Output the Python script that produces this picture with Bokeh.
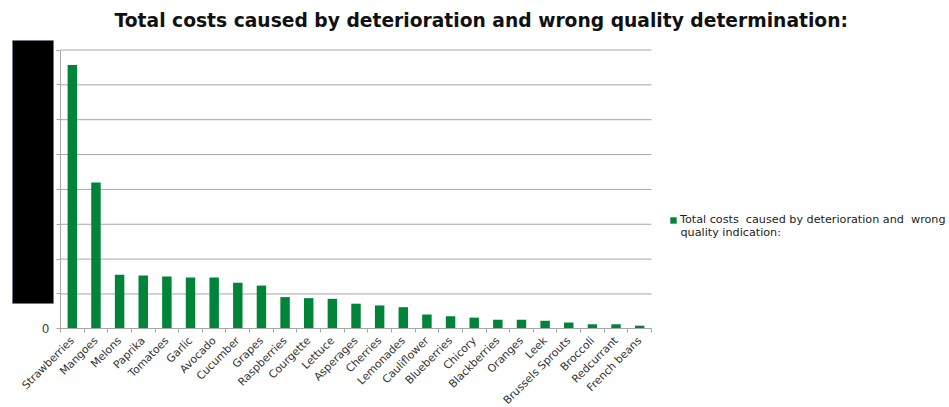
import math
from bokeh.plotting import figure
from bokeh.models import (Range1d, FixedTicker, BoxAnnotation, Legend, LegendItem,
                          ColumnDataSource, Label)
from bokeh.embed import file_html
from bokeh.resources import INLINE

categories = ["Strawberries", "Mangoes", "Melons", "Paprika", "Tomatoes", "Garlic",
              "Avocado", "Cucumber", "Grapes", "Raspberries", "Courgette", "Lettuce",
              "Asperages", "Cherries", "Lemonades", "Cauliflower", "Blueberries",
              "Chicory", "Blackberries", "Oranges", "Leek", "Brussels Sprouts",
              "Broccoli", "Redcurrant", "French beans"]
costs = [7.57, 4.20, 1.55, 1.53, 1.50, 1.47, 1.47, 1.32, 1.24, 0.91, 0.88, 0.86,
         0.72, 0.67, 0.62, 0.41, 0.36, 0.32, 0.26, 0.26, 0.23, 0.18, 0.13, 0.13, 0.09]
y_ticks = [0, 1, 2, 3, 4, 5, 6, 7, 8]
y_tick_labels = {0: "0"}

title_text = "Total costs  caused by deterioration and wrong quality determination:"
legend_line1 = "Total costs  caused by deterioration and  wrong"
legend_line2 = "quality indication:"

FONT = "DejaVu Sans"
GREEN = "#00843a"
GRID = "#a6a6a6"

W, H = 949, 407
n = len(categories)
centers = [i + 0.5 for i in range(n)]
src = ColumnDataSource(dict(x=centers, top=costs, name=categories))

# The frame fills the canvas; axes are pinned at the data origin so the
# chart body sits at the left with room for the legend on the right.
px_x = 591 / n               # pixels per category
px_y = 278.8 / y_ticks[-1]   # pixels per value unit
x0_px, y0_px = 60, 328.3
x_range = Range1d(-x0_px / px_x, (W - x0_px) / px_x)
y_range = Range1d(-(H - y0_px) / px_y, y0_px / px_y)

p = figure(width=W, height=H, output_backend="svg", toolbar_location=None,
           x_range=x_range, y_range=y_range,
           min_border=0, min_border_left=0, min_border_right=0,
           min_border_top=0, min_border_bottom=0)
p.outline_line_color = None
p.background_fill_color = "white"
p.border_fill_color = "white"
p.xgrid.grid_line_color = None
p.ygrid.grid_line_color = None

# horizontal gridlines limited to the category span
grid_levels = y_ticks[1:]
grid = p.segment(x0=[0] * len(grid_levels), x1=[n] * len(grid_levels),
                 y0=grid_levels, y1=grid_levels,
                 line_color=GRID, line_width=1)
grid.level = "underlay"

bars = p.vbar(x="x", top="top", width=0.4, bottom=0, source=src,
              fill_color=GREEN, line_color=None)

# category axis: names under bars, ticks between categories
p.xaxis.fixed_location = 0
p.xaxis.bounds = (0, n)
p.xaxis.ticker = FixedTicker(ticks=centers, minor_ticks=list(range(n + 1)))
p.xaxis.major_label_overrides = {c: name for c, name in zip(centers, categories)}
p.xaxis.major_tick_out = 0
p.xaxis.major_tick_in = 0
p.xaxis.minor_tick_out = 4
p.xaxis.minor_tick_in = 0
p.xaxis.minor_tick_line_color = GRID
p.xaxis.axis_line_color = GRID
p.xaxis.major_label_orientation = math.pi / 4
p.xaxis.major_label_text_font = FONT
p.xaxis.major_label_text_font_size = "10.8px"
p.xaxis.major_label_text_color = "#333333"
p.xaxis.major_label_standoff = 6

# value axis: only the zero label is shown
p.yaxis.fixed_location = 0
p.yaxis.bounds = (0, y_ticks[-1])
p.yaxis.ticker = FixedTicker(ticks=y_ticks)
p.yaxis.major_label_overrides = {t: y_tick_labels.get(t, "") for t in y_ticks}
p.yaxis.major_tick_out = 4
p.yaxis.major_tick_in = 0
p.yaxis.minor_tick_line_color = None
p.yaxis.major_tick_line_color = GRID
p.yaxis.axis_line_color = GRID
p.yaxis.major_label_text_font = FONT
p.yaxis.major_label_text_font_size = "12px"
p.yaxis.major_label_text_color = "#404040"
p.yaxis.major_label_standoff = 7


def sx(px):
    return x_range.start + px / px_x


def sy(py):
    return y_range.end - py / px_y


# black panel over the value labels
p.add_layout(BoxAnnotation(left=sx(12), right=sx(53), top=sy(40), bottom=sy(303),
                           fill_color="black", fill_alpha=1.0,
                           line_color="#4f6d9a", line_width=1, level="overlay"))

p.add_layout(Label(x=sx(484), y=sy(20), text=title_text, text_align="center",
                   text_baseline="middle", text_font=FONT, text_font_size="18.7px",
                   text_font_style="bold", text_color="#111111"))

legend = Legend(items=[LegendItem(label=legend_line1, renderers=[bars])],
                location=(669, H - 226), orientation="vertical",
                label_text_font=FONT, label_text_font_size="11.2px",
                label_text_color="#222222", glyph_width=8, glyph_height=8,
                label_standoff=3, border_line_color=None,
                background_fill_alpha=0, padding=0, margin=0)
p.add_layout(legend, "center")

p.add_layout(Label(x=sx(680), y=sy(232), text=legend_line2, text_align="left",
                   text_baseline="middle", text_font=FONT, text_font_size="11.2px",
                   text_color="#222222"))

open("out.html", "w").write(file_html(p, INLINE))
